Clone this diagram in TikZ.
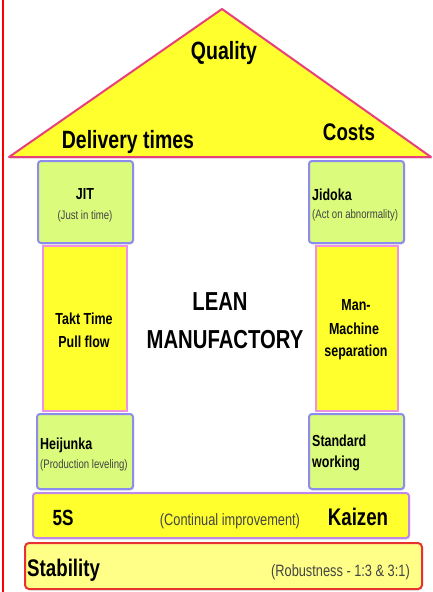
\documentclass[tikz,border=0pt]{standalone}
\usepackage{fontspec}
\setmainfont[FakeStretch=0.78]{Liberation Sans}
\usetikzlibrary{shadows}

\definecolor{roofyellow}{HTML}{FFFF2E}
\definecolor{roofedge}{HTML}{E8407A}
\definecolor{capgreen}{HTML}{DAFB7C}
\definecolor{capedge}{HTML}{8C8CEE}
\definecolor{pillaryellow}{HTML}{FFFF2E}
\definecolor{pillaredge}{HTML}{F090E0}
\definecolor{stepedge}{HTML}{C088E8}
\definecolor{baseyellow}{HTML}{FFFF88}
\definecolor{baseedge}{HTML}{E83232}
\definecolor{subtext}{HTML}{444444}

\tikzset{
  softshadow/.style={drop shadow={opacity=0.25, shadow xshift=1pt, shadow yshift=-1.5pt}},
  capbox/.style={draw=capedge, fill=capgreen, line width=2pt, rounded corners=3pt,
    anchor=north west, inner sep=0pt, softshadow},
  pillar/.style={draw=pillaredge, fill=pillaryellow, line width=1.5pt,
    anchor=north west, inner sep=0pt},
  stepbar/.style={draw=stepedge, fill=pillaryellow, line width=2pt, rounded corners=3pt,
    anchor=north west, inner sep=0pt, softshadow},
  basebar/.style={draw=baseedge, fill=baseyellow, line width=2pt, rounded corners=4pt,
    anchor=north west, inner sep=0pt, softshadow},
  big/.style={font=\fontsize{25}{30}\selectfont\bfseries, inner sep=0pt, anchor=base},
  mid/.style={font=\fontsize{16}{19}\selectfont\bfseries, inner sep=0pt, anchor=base},
  note/.style={font=\fontsize{12.3}{14}\selectfont, text=subtext, inner sep=0pt, anchor=base},
  remark/.style={font=\fontsize{16.4}{19}\selectfont, text=subtext, inner sep=0pt, anchor=base},
}

\begin{document}
\begin{tikzpicture}[x=1pt, y=-1pt]
\useasboundingbox (0,0) rectangle (432,592);

% page margin rule
\draw[red, line width=2pt] (3,0) -- (3,592);

% roof
\coordinate (roofL) at (9,157);
\coordinate (roofT) at (222,9);
\coordinate (roofR) at (431,157);
\filldraw[fill=roofyellow, draw=roofedge, line width=2pt, line join=round, softshadow]
  (roofL) -- (roofT) -- (roofR) -- cycle;
\node[big] (quality) at (224,59) {Quality};
\node[big] (delivery) at (128,148) {Delivery times};
\node[big, font=\fontsize{24}{29}\selectfont\bfseries] (costs) at (349,140) {Costs};

% pillar capitals
\node[capbox, minimum width=95pt, minimum height=82pt] (jit) at (37,160) {};
\node[capbox, minimum width=95pt, minimum height=82pt] (jidoka) at (308,160) {};
\node[mid] (jitT) at (85,199) {JIT};
\node[note] (jitS) at (85,219) {(Just in time)};
\node[mid, anchor=base west] (jidokaT) at (312,200) {Jidoka};
\node[note, anchor=base west] (jidokaS) at (312,218) {(Act on abnormality)};

% pillar shafts
\node[pillar, minimum width=84pt, minimum height=165pt] (leftshaft) at (42,245) {};
\node[pillar, minimum width=82pt, minimum height=165pt] (rightshaft) at (315,245) {};
\node[mid] (takt) at (84,324) {Takt Time};
\node[mid] (pull) at (84,347) {Pull flow};
\node[mid] (man) at (356,310) {Man-};
\node[mid] (machine) at (354,334) {Machine};
\node[mid] (separation) at (356,356) {separation};

% centre title
\node[font=\fontsize{26}{31}\selectfont\bfseries, inner sep=0pt, anchor=base] (lean) at (220,310) {LEAN};
\node[font=\fontsize{26}{31}\selectfont\bfseries, inner sep=0pt, anchor=base] (manuf) at (225,348) {MANUFACTORY};

% pillar bases
\node[capbox, minimum width=96pt, minimum height=75pt] (heijunka) at (36,413) {};
\node[capbox, minimum width=95pt, minimum height=75pt] (standard) at (308,413) {};
\node[mid, anchor=base west] (heijunkaT) at (40,449) {Heijunka};
\node[note, anchor=base west] (heijunkaS) at (40,468) {(Production leveling)};
\node[mid, anchor=base west] (standardT) at (312,446) {Standard};
\node[mid, anchor=base west] (workingT) at (312,467) {working};

% kaizen step
\node[stepbar, minimum width=376pt, minimum height=45pt] (kaizenbar) at (32,492) {};
\node[big, font=\fontsize{22}{26}\selectfont\bfseries] (fiveS) at (63,525) {5S};
\node[remark] (continual) at (230,525) {(Continual improvement)};
\node[big, font=\fontsize{24}{29}\selectfont\bfseries] (kaizen) at (358,525) {Kaizen};

% stability foundation
\node[basebar, minimum width=397pt, minimum height=46pt] (stabbar) at (24,542) {};
\node[big, font=\fontsize{24}{29}\selectfont\bfseries, anchor=base west] (stability) at (27,576) {Stability};
\node[remark, anchor=base east] (robust) at (410,576) {(Robustness - 1:3 \& 3:1)};
\end{tikzpicture}
\end{document}
